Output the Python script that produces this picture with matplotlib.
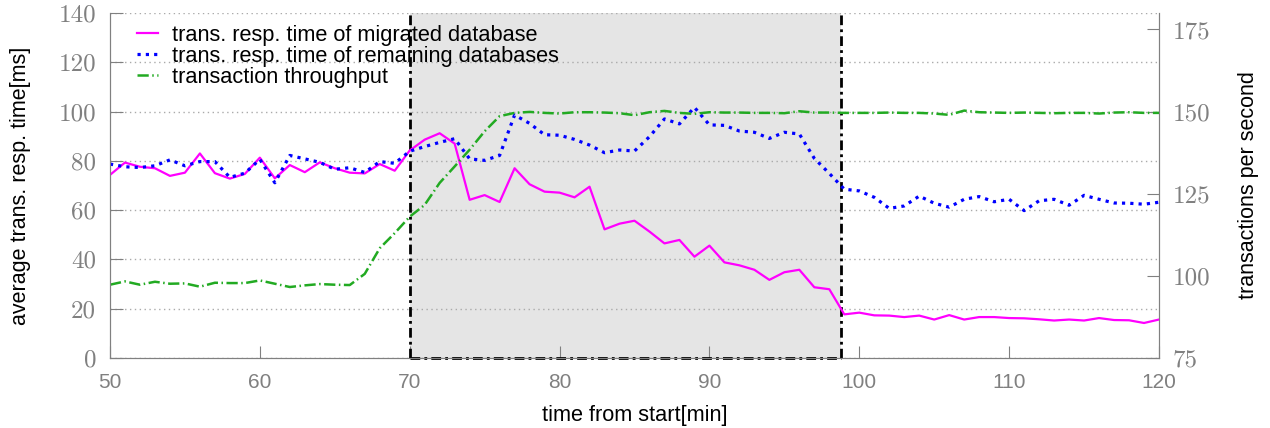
import matplotlib

matplotlib.use("Agg")
import matplotlib.pyplot as plt

# minutes since start, one sample per minute
minutes = list(range(50, 121))

# average transaction response time of the migrated database [ms]
migrated = [
    74.3, 79.3, 77.6, 77.0, 73.9, 75.2, 83.0, 75.0, 72.8, 74.7,
    81.3, 72.9, 78.3, 75.4, 79.4, 77.0, 75.2, 74.9, 78.7, 76.0,
    84.2, 88.6, 91.2, 87.0, 64.2, 66.1, 63.3, 77.0, 70.5, 67.5,
    67.1, 65.2, 69.5, 52.2, 54.5, 55.7, 51.3, 46.5, 47.9, 41.1,
    45.6, 38.8, 37.6, 35.8, 31.7, 34.8, 35.8, 28.7, 27.9, 17.7,
    18.4, 17.3, 17.2, 16.6, 17.2, 15.6, 17.4, 15.6, 16.6, 16.6,
    16.2, 16.1, 15.7, 15.2, 15.6, 15.2, 16.2, 15.4, 15.3, 14.2,
    15.6,
]

# average transaction response time of the remaining databases [ms]
remaining = [
    78.7, 77.6, 77.3, 78.0, 80.4, 78.0, 79.7, 79.7, 73.3, 75.0,
    80.6, 71.1, 82.2, 80.8, 79.4, 76.6, 77.2, 75.3, 79.7, 79.0,
    83.9, 85.8, 87.5, 89.0, 80.8, 80.2, 82.2, 98.6, 95.2, 90.6,
    90.4, 88.7, 86.4, 83.3, 84.4, 84.0, 89.8, 97.0, 95.0, 101.7,
    94.6, 94.4, 92.1, 91.6, 89.1, 91.6, 90.9, 81.0, 74.9, 68.5,
    67.8, 65.2, 60.7, 61.7, 65.7, 62.8, 61.2, 64.4, 65.5, 63.4,
    64.4, 59.8, 63.8, 64.4, 62.0, 66.0, 64.4, 62.9, 62.8, 62.4,
    63.2,
]

# transactions per second
throughput = [
    97.3, 98.3, 97.3, 98.2, 97.6, 97.7, 96.7, 97.9, 97.8, 97.8,
    98.6, 97.6, 96.6, 97.1, 97.5, 97.3, 97.2, 100.6, 108.4, 113.0,
    118.0, 121.6, 128.3, 133.3, 138.4, 144.0, 148.6, 149.6, 149.9, 149.6,
    149.4, 149.8, 149.8, 149.7, 149.5, 148.9, 149.8, 150.2, 149.6, 149.3,
    149.8, 149.7, 149.7, 149.6, 149.6, 149.5, 150.1, 149.7, 149.7, 149.6,
    149.6, 149.6, 149.7, 149.6, 149.6, 149.4, 149.0, 150.3, 149.8, 149.7,
    149.6, 149.7, 149.6, 149.5, 149.6, 149.6, 149.4, 149.7, 149.8, 149.6,
    149.6,
]

# migration window [min]
migration_start = 70.0
migration_end = 98.8

plt.rcParams["font.family"] = ["Liberation Sans", "DejaVu Sans"]
GREY = "#808080"

fig = plt.figure(figsize=(12.7, 4.28), dpi=100)
ax = fig.add_axes([0.0866, 0.1636, 0.826, 0.806])
ax2 = ax.twinx()

# shaded migration window
ax.axvspan(migration_start, migration_end, color="#e5e5e5", lw=0, zorder=0)
for xv in (migration_start, migration_end):
    ax.axvline(xv, color="black", lw=2, ls=(0, (3.5, 1.5, 1, 1.5)), zorder=3)
ax.hlines(0, migration_start, migration_end, color="black", lw=2,
          ls=(0, (3.5, 1.5, 1, 1.5)), zorder=3, clip_on=False)

l1, = ax.plot(minutes, migrated, color="#ff00ff", lw=1.6,
              label="trans. resp. time of migrated database", zorder=4)
l2, = ax.plot(minutes, remaining, color="#0000ff", lw=2.3, ls=(0, (1, 1.6)),
              label="trans. resp. time of remaining databases", zorder=4)
l3, = ax2.plot(minutes, throughput, color="#22aa22", lw=1.8,
               ls=(0, (4.5, 1.4, 0.6, 1.4)), label="transaction throughput")

ax.set_xlim(50, 120)
ax.set_ylim(0, 140)
ax2.set_ylim(75, 180)
ax.set_xticks(range(50, 121, 10))
ax.set_yticks(range(0, 141, 20))
ax2.set_yticks([75, 100, 125, 150, 175])

ax.grid(axis="y", color="#aaaaaa", ls=(0, (1, 2.5)), lw=1)
ax.set_axisbelow(True)

for a in (ax, ax2):
    a.spines["top"].set_visible(False)
    for s in ("left", "right", "bottom"):
        a.spines[s].set_color(GREY)
    a.tick_params(direction="in", length=9, color=GREY, labelcolor=GREY)
ax.tick_params(axis="x", labelsize=15, pad=11)
ax.tick_params(axis="y", labelsize=18, pad=10)
ax2.tick_params(axis="y", labelsize=18, pad=10)
for lab in ax.get_yticklabels() + ax2.get_yticklabels():
    lab.set_fontfamily("cmr10")

ax.set_xlabel("time from start[min]", fontsize=15.7, labelpad=9)
ax.set_ylabel("average trans. resp. time[ms]", fontsize=15.5, labelpad=20)
ax2.set_ylabel("transactions per second", fontsize=15.5, labelpad=20)

ax2.legend(handles=[l1, l2, l3], loc="upper left", bbox_to_anchor=(0.012, 1.006),
           frameon=False, fontsize=15.7, handlelength=0.96, handletextpad=0.64,
           labelspacing=0.0, borderpad=0.15)

fig.savefig("out.png", dpi=100)
